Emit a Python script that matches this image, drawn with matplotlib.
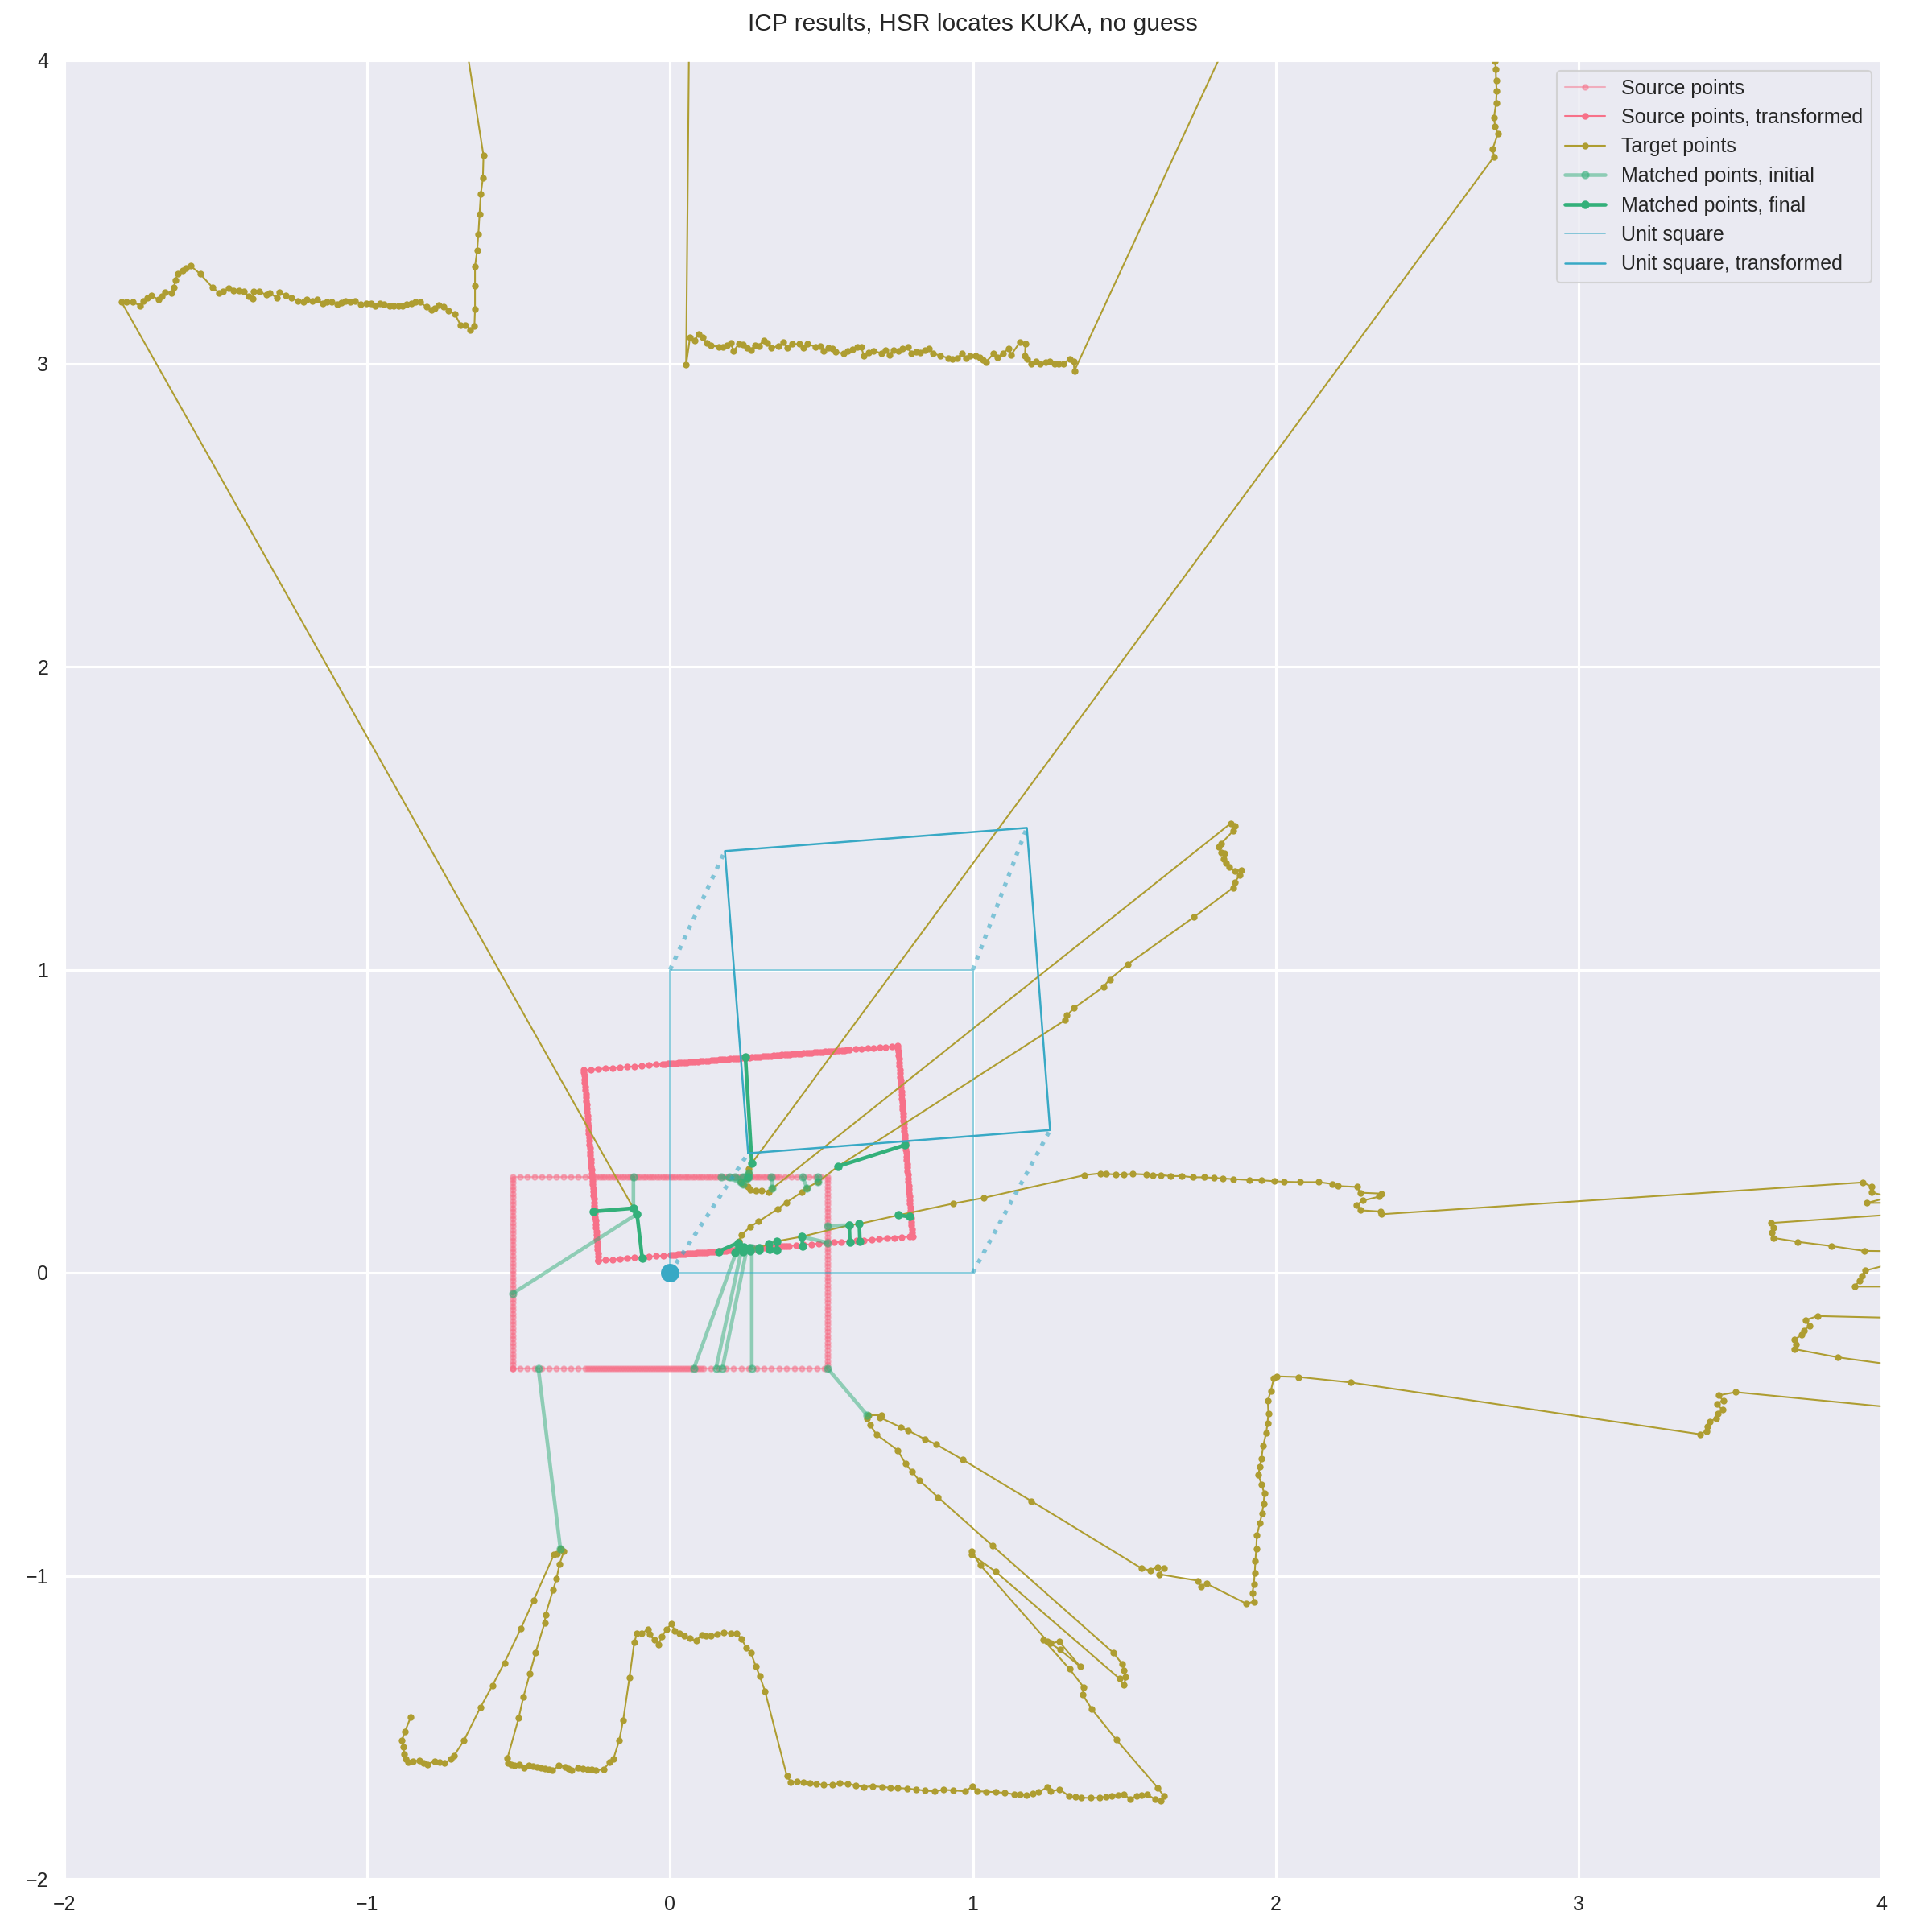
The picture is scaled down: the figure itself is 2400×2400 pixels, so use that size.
import numpy as np
import matplotlib
matplotlib.use("Agg")
import matplotlib.pyplot as plt
import matplotlib.transforms as mtransforms
import seaborn as sns

# colours (seaborn husl palette, 10 colours)
c_source = "#f77189"
c_target = "#ae9d31"
c_match = "#33b07a"
c_square = "#38a9c5"

# ICP result: rotation in degrees and translation
icp_theta = 4.4
icp_t = (0.258, 0.394)

# source scan of the KUKA footprint: rectangle outline
src_w, src_h = 0.52, 0.315
src_bottom_steps = [(-0.52, -0.28, 0.024), (-0.28, 0.11, 0.008), (0.11, 0.52, 0.025)]
src_top_steps = [(-0.52, -0.26, 0.024), (-0.26, 0.36, 0.009), (0.36, 0.52, 0.02)]
src_side_step = 0.012

# target scan (HSR laser), in scan order
tgt_bottom_left = [
    (-0.856, -1.465), (-0.875, -1.513), (-0.886, -1.544), (-0.880, -1.565), (-0.878, -1.587),
    (-0.872, -1.604), (-0.865, -1.615), (-0.848, -1.612), (-0.828, -1.609), (-0.815, -1.618),
    (-0.802, -1.622), (-0.776, -1.611), (-0.760, -1.616), (-0.744, -1.618), (-0.723, -1.604),
    (-0.713, -1.593), (-0.681, -1.544), (-0.626, -1.434), (-0.587, -1.363), (-0.547, -1.287),
    (-0.493, -1.175), (-0.451, -1.082), (-0.383, -0.929), (-0.374, -0.926), (-0.362, -0.912),
    (-0.351, -0.920), (-0.365, -0.962), (-0.375, -1.010), (-0.386, -1.046), (-0.411, -1.128),
    (-0.414, -1.155), (-0.444, -1.254), (-0.463, -1.323), (-0.484, -1.399), (-0.500, -1.470),
    (-0.537, -1.602),
]
tgt_bottom = [
    (-0.535, -1.617), (-0.524, -1.622), (-0.514, -1.626), (-0.498, -1.623), (-0.482, -1.634),
    (-0.466, -1.626), (-0.452, -1.628), (-0.440, -1.631), (-0.427, -1.633), (-0.414, -1.637),
    (-0.400, -1.638), (-0.388, -1.642), (-0.367, -1.626), (-0.346, -1.631), (-0.335, -1.636),
    (-0.325, -1.642), (-0.304, -1.634), (-0.288, -1.637), (-0.273, -1.639), (-0.260, -1.640),
    (-0.246, -1.642), (-0.220, -1.639), (-0.199, -1.615), (-0.187, -1.604), (-0.168, -1.544),
    (-0.155, -1.478), (-0.134, -1.336), (-0.118, -1.219), (-0.109, -1.190), (-0.094, -1.190),
    (-0.073, -1.177), (-0.068, -1.193), (-0.052, -1.212), (-0.037, -1.226), (-0.028, -1.201),
    (-0.011, -1.177), (0.005, -1.157), (0.016, -1.183), (0.031, -1.191), (0.047, -1.199),
    (0.066, -1.207), (0.086, -1.215), (0.105, -1.194), (0.120, -1.197), (0.136, -1.199),
    (0.157, -1.192), (0.178, -1.188), (0.200, -1.189), (0.220, -1.190), (0.236, -1.208),
    (0.252, -1.237), (0.267, -1.254), (0.283, -1.298), (0.296, -1.330), (0.314, -1.382),
    (0.386, -1.661), (0.399, -1.680), (0.420, -1.679), (0.441, -1.680), (0.462, -1.684),
    (0.482, -1.686), (0.508, -1.690), (0.535, -1.689), (0.560, -1.684), (0.587, -1.686),
    (0.613, -1.692), (0.640, -1.697), (0.670, -1.694), (0.702, -1.697), (0.727, -1.699),
    (0.752, -1.700), (0.783, -1.702), (0.813, -1.705), (0.843, -1.709), (0.873, -1.711),
    (0.904, -1.706), (0.934, -1.708), (0.974, -1.711), (0.999, -1.695), (1.015, -1.711),
    (1.045, -1.712), (1.075, -1.714), (1.106, -1.716), (1.136, -1.721), (1.156, -1.722),
    (1.176, -1.724), (1.197, -1.718), (1.217, -1.714), (1.247, -1.697), (1.257, -1.711),
    (1.287, -1.705), (1.318, -1.727), (1.338, -1.730), (1.358, -1.732), (1.389, -1.733),
    (1.419, -1.732), (1.439, -1.729), (1.459, -1.727), (1.479, -1.724), (1.499, -1.721),
    (1.520, -1.737), (1.540, -1.727), (1.557, -1.724), (1.575, -1.721), (1.601, -1.737),
    (1.621, -1.743), (1.631, -1.727), (1.611, -1.700),
]
tgt_diagonals = [
    (1.474, -1.541), (1.393, -1.440), (1.363, -1.393), (1.366, -1.368), (1.320, -1.308),
    (1.232, -1.210), (1.257, -1.223), (1.285, -1.217), (1.355, -1.300), (1.288, -1.244),
    (1.247, -1.217), (1.025, -0.965), (0.995, -0.920), (0.995, -0.929), (1.075, -0.986),
    (1.484, -1.339), (1.499, -1.361), (1.505, -1.334), (1.499, -1.311), (1.494, -1.292),
    (1.464, -1.254), (1.065, -0.901), (0.884, -0.740), (0.823, -0.685), (0.798, -0.655),
    (0.777, -0.629), (0.752, -0.586), (0.681, -0.533), (0.661, -0.502), (0.651, -0.480),
    (0.657, -0.470), (0.697, -0.470), (0.692, -0.477), (0.762, -0.510), (0.787, -0.521),
    (0.841, -0.549), (0.878, -0.566), (0.967, -0.617), (1.194, -0.754), (1.558, -0.976),
    (1.585, -0.982), (1.611, -0.971), (1.631, -0.974), (1.616, -0.995), (1.742, -1.016),
    (1.754, -1.037), (1.772, -1.026), (1.903, -1.092), (1.928, -1.085),
]
tgt_right_wall = [
    (1.923, -1.058), (1.928, -1.027), (1.931, -0.990), (1.933, -0.952), (1.936, -0.910),
    (1.938, -0.867), (1.948, -0.825), (1.955, -0.795), (1.960, -0.762), (1.963, -0.729),
    (1.953, -0.698), (1.943, -0.666), (1.948, -0.640), (1.953, -0.613), (1.959, -0.570),
    (1.969, -0.528), (1.973, -0.496), (1.976, -0.464), (1.974, -0.422), (1.984, -0.390),
    (1.994, -0.348), (2.004, -0.342),
]
tgt_right = [
    (2.076, -0.344), (2.247, -0.362), (3.401, -0.533), (3.423, -0.522), (3.427, -0.507),
    (3.434, -0.492), (3.454, -0.480), (3.460, -0.465), (3.475, -0.452), (3.457, -0.433),
    (3.478, -0.421), (3.462, -0.405), (3.519, -0.394), (4.3, -0.47), (4.3, -0.34),
    (3.856, -0.279), (3.714, -0.252), (3.717, -0.236), (3.714, -0.220), (3.738, -0.205),
    (3.744, -0.190), (3.763, -0.176), (3.750, -0.156), (3.790, -0.143), (4.3, -0.155),
    (4.3, -0.046), (3.912, -0.046), (3.928, -0.027), (3.935, -0.011), (3.948, 0.007),
    (4.3, 0.10), (4.3, 0.068), (3.943, 0.072), (3.836, 0.088), (3.723, 0.102),
    (3.643, 0.115), (3.639, 0.132), (3.643, 0.148), (3.637, 0.164), (4.3, 0.21),
    (4.3, 0.233), (3.952, 0.230), (4.03, 0.250), (3.967, 0.265), (3.967, 0.284),
    (3.940, 0.298),
]
tgt_center_right = [
    (2.350, 0.193), (2.346, 0.202), (2.279, 0.206), (2.267, 0.223), (2.288, 0.238),
    (2.341, 0.251), (2.350, 0.261), (2.279, 0.264), (2.270, 0.283), (2.205, 0.286),
    (2.186, 0.293), (2.143, 0.299), (2.080, 0.299), (2.027, 0.300), (1.996, 0.302),
    (1.952, 0.305), (1.912, 0.306), (1.859, 0.309), (1.825, 0.311), (1.797, 0.313),
    (1.763, 0.315), (1.726, 0.315), (1.691, 0.319), (1.652, 0.319), (1.622, 0.322),
    (1.595, 0.322), (1.572, 0.324), (1.528, 0.326), (1.498, 0.324), (1.472, 0.324),
    (1.440, 0.326), (1.422, 0.328), (1.369, 0.322), (1.036, 0.247), (0.935, 0.228),
    (0.755, 0.190), (0.625, 0.161), (0.592, 0.157), (0.435, 0.119), (0.353, 0.104),
    (0.327, 0.096), (0.293, 0.082), (0.262, 0.082), (0.245, 0.085), (0.227, 0.090),
    (0.225, 0.099),
]
tgt_center_up = [
    (0.227, 0.104), (0.237, 0.126), (0.266, 0.152), (0.292, 0.169), (0.355, 0.210),
    (0.385, 0.232), (0.435, 0.266), (0.452, 0.280), (0.489, 0.300), (0.555, 0.351),
    (1.304, 0.833), (1.311, 0.849), (1.334, 0.873), (1.431, 0.943), (1.452, 0.968),
    (1.511, 1.017), (1.731, 1.174), (1.859, 1.270), (1.864, 1.287), (1.882, 1.313),
    (1.887, 1.328), (1.864, 1.326), (1.846, 1.338), (1.837, 1.351), (1.829, 1.364),
    (1.830, 1.384), (1.820, 1.387), (1.811, 1.405), (1.820, 1.416), (1.859, 1.457),
    (1.864, 1.474), (1.852, 1.483),
]
tgt_hook = [
    (0.338, 0.278), (0.325, 0.265), (0.302, 0.272), (0.284, 0.272), (0.266, 0.274),
    (0.258, 0.285), (0.240, 0.292), (0.232, 0.300), (0.254, 0.310), (0.258, 0.316),
    (0.260, 0.330), (0.260, 0.343), (0.270, 0.361),
]
tgt_top_right = [
    (2.721, 3.682), (2.717, 3.709), (2.734, 3.758), (2.725, 3.781), (2.721, 3.812),
    (2.728, 3.858), (2.730, 3.898), (2.728, 3.934), (2.727, 3.970), (2.725, 3.998),
    (2.73, 4.3), (1.95, 4.3),
]
tgt_top_middle = [
    (1.335, 2.975), (1.333, 3.007), (1.320, 3.015), (1.300, 3.000), (1.284, 2.998),
    (1.269, 3.000), (1.255, 3.007), (1.240, 3.003), (1.222, 3.000), (1.209, 3.007),
    (1.192, 3.000), (1.180, 3.014), (1.172, 3.024), (1.174, 3.066), (1.156, 3.071),
    (1.127, 3.029), (1.118, 3.049), (1.099, 3.033), (1.081, 3.020), (1.068, 3.032),
    (1.044, 3.005), (1.033, 3.011), (1.022, 3.020), (1.009, 3.025), (0.992, 3.025),
    (0.978, 3.018), (0.965, 3.032), (0.947, 3.018), (0.931, 3.015), (0.918, 3.018),
    (0.892, 3.026), (0.868, 3.033), (0.856, 3.049), (0.841, 3.044), (0.825, 3.035),
    (0.812, 3.038), (0.796, 3.033), (0.786, 3.055), (0.768, 3.049), (0.755, 3.040),
    (0.739, 3.044), (0.724, 3.029), (0.712, 3.044), (0.697, 3.034), (0.671, 3.042),
    (0.656, 3.035), (0.640, 3.026), (0.631, 3.055), (0.618, 3.055), (0.603, 3.047),
    (0.587, 3.042), (0.574, 3.032), (0.547, 3.038), (0.536, 3.049), (0.523, 3.053),
    (0.508, 3.040), (0.497, 3.058), (0.481, 3.055), (0.455, 3.064), (0.441, 3.051),
    (0.428, 3.064), (0.402, 3.064), (0.386, 3.051), (0.375, 3.070), (0.359, 3.058),
    (0.333, 3.051), (0.322, 3.068), (0.309, 3.076), (0.293, 3.058), (0.280, 3.060),
    (0.267, 3.044), (0.253, 3.051), (0.240, 3.062), (0.227, 3.064), (0.210, 3.041),
    (0.200, 3.068), (0.187, 3.059), (0.174, 3.055), (0.161, 3.055), (0.134, 3.059),
    (0.121, 3.068), (0.108, 3.086), (0.094, 3.096), (0.081, 3.077), (0.066, 3.086),
    (0.053, 2.995), (0.065, 4.3), (-0.712, 4.3),
]
tgt_top_left = [
    (-0.616, 3.686), (-0.618, 3.611), (-0.625, 3.558), (-0.629, 3.494), (-0.633, 3.425),
    (-0.637, 3.372), (-0.644, 3.321), (-0.644, 3.256), (-0.644, 3.180), (-0.646, 3.123),
    (-0.660, 3.111), (-0.676, 3.127), (-0.692, 3.127), (-0.711, 3.164), (-0.732, 3.173),
    (-0.747, 3.187), (-0.763, 3.193), (-0.778, 3.182), (-0.789, 3.177), (-0.805, 3.186),
    (-0.826, 3.204), (-0.840, 3.202), (-0.855, 3.199), (-0.869, 3.196), (-0.884, 3.191),
    (-0.897, 3.191), (-0.913, 3.191), (-0.926, 3.191), (-0.944, 3.196), (-0.959, 3.198),
    (-0.973, 3.191), (-0.988, 3.198), (-1.004, 3.198), (-1.021, 3.196), (-1.039, 3.207),
    (-1.055, 3.204), (-1.071, 3.207), (-1.086, 3.200), (-1.099, 3.196), (-1.117, 3.204),
    (-1.133, 3.204), (-1.146, 3.198), (-1.166, 3.211), (-1.182, 3.207), (-1.199, 3.211),
    (-1.210, 3.202), (-1.228, 3.207), (-1.250, 3.216), (-1.268, 3.224), (-1.290, 3.236),
    (-1.299, 3.217), (-1.321, 3.232), (-1.334, 3.226), (-1.356, 3.238), (-1.374, 3.239),
    (-1.378, 3.215), (-1.392, 3.222), (-1.407, 3.239), (-1.423, 3.240), (-1.441, 3.240),
    (-1.458, 3.248), (-1.476, 3.238), (-1.489, 3.233), (-1.512, 3.252), (-1.552, 3.296),
    (-1.583, 3.322), (-1.598, 3.316), (-1.610, 3.307), (-1.625, 3.296), (-1.634, 3.274),
    (-1.638, 3.252), (-1.647, 3.232), (-1.667, 3.236), (-1.679, 3.222), (-1.690, 3.211),
    (-1.712, 3.224), (-1.727, 3.216), (-1.740, 3.207), (-1.750, 3.191), (-1.774, 3.202),
    (-1.794, 3.202), (-1.811, 3.202),
]
tgt_end = [(-0.121, 0.213), (-0.109, 0.194)]

# correspondences: (source x, source y, target x, target y)
match_initial = [
    (-0.520, -0.069, -0.109, 0.194), (-0.121, 0.316, -0.121, 0.213),
    (-0.435, -0.315, -0.362, -0.912), (0.520, -0.315, 0.651, -0.470),
    (0.079, -0.315, 0.225, 0.086), (0.152, -0.315, 0.237, 0.080),
    (0.173, -0.315, 0.254, 0.080), (0.270, -0.315, 0.270, 0.082),
    (0.520, 0.155, 0.592, 0.157), (0.520, 0.099, 0.435, 0.119),
    (0.335, 0.316, 0.338, 0.278), (0.438, 0.316, 0.452, 0.280),
    (0.489, 0.316, 0.489, 0.300), (0.170, 0.316, 0.232, 0.300),
    (0.195, 0.316, 0.240, 0.292), (0.215, 0.316, 0.254, 0.310),
    (0.260, 0.316, 0.258, 0.316), (0.240, 0.316, 0.260, 0.330),
]
match_final = [
    (0.249, 0.713, 0.270, 0.361), (-0.254, 0.202, -0.121, 0.213),
    (-0.092, 0.049, -0.109, 0.194), (0.160, 0.070, 0.225, 0.099),
    (0.775, 0.421, 0.555, 0.351), (0.790, 0.185, 0.755, 0.190),
    (0.594, 0.100, 0.592, 0.157), (0.627, 0.104, 0.625, 0.161),
    (0.438, 0.087, 0.435, 0.119), (0.353, 0.075, 0.353, 0.104),
    (0.328, 0.077, 0.327, 0.096), (0.293, 0.075, 0.293, 0.082),
    (0.215, 0.066, 0.227, 0.090), (0.240, 0.068, 0.245, 0.085),
    (0.265, 0.071, 0.262, 0.082),
]

unit_x = [0, 1, 1, 0, 0]
unit_y = [0, 0, 1, 1, 0]


def edge(steps):
    return np.concatenate([np.arange(a, b, s) for a, b, s in steps])


def segments(pairs):
    xs, ys = [], []
    for sx, sy, tx, ty in pairs:
        xs += [sx, tx, np.nan]
        ys += [sy, ty, np.nan]
    return xs, ys


sns.set_theme(style="darkgrid", rc={"grid.linewidth": 1.5})
plt.rcParams['font.family'] = ['Liberation Sans', 'DejaVu Sans']

# source outline: bottom -> right -> top -> left
bx = edge(src_bottom_steps)
tx = edge(src_top_steps)[::-1]
side = np.arange(-src_h, src_h, src_side_step)
src_x = np.concatenate([bx, np.full(len(side), src_w), tx, np.full(len(side), -src_w), [-src_w]])
src_y = np.concatenate([np.full(len(bx), -src_h), side, np.full(len(tx), src_h), side[::-1], [-src_h]])

target = (tgt_bottom_left + tgt_bottom + tgt_diagonals + tgt_right_wall + tgt_right
          + tgt_center_right + tgt_center_up + tgt_hook + tgt_top_right + tgt_top_middle
          + tgt_top_left + tgt_end)
tgt_x = [p[0] for p in target]
tgt_y = [p[1] for p in target]

fig = plt.figure(figsize=(16, 16), dpi=150)
ax = fig.add_axes([80 / 2400, 1 - 2334 / 2400, 2257 / 2400, 2259 / 2400])

icp = mtransforms.Affine2D().rotate_deg(icp_theta).translate(*icp_t)

ax.plot(src_x, src_y, '-o', color=c_source, alpha=0.5, lw=1, ms=3, label='Source points')
ax.plot(src_x, src_y, '-o', color=c_source, lw=1, ms=3, transform=icp + ax.transData,
        label='Source points, transformed')
ax.plot(tgt_x, tgt_y, '-o', color=c_target, lw=1, ms=3, label='Target points')

mx, my = segments(match_initial)
ax.plot(mx, my, '-o', color=c_match, alpha=0.5, lw=2.2, ms=4, label='Matched points, initial')
mx, my = segments(match_final)
ax.plot(mx, my, '-o', color=c_match, lw=2.2, ms=4, label='Matched points, final')

ax.plot(unit_x, unit_y, color=c_square, alpha=0.6, lw=0.9, label='Unit square')
ax.plot(unit_x, unit_y, color=c_square, lw=1.2, transform=icp + ax.transData,
        label='Unit square, transformed')

# dotted links from each unit square corner to its transformed position
corners = np.column_stack([unit_x[:4], unit_y[:4]])
moved = icp.transform(corners)
for (x0, y0), (x1, y1) in zip(corners, moved):
    ax.plot([x0, x1], [y0, y1], ':', color=c_square, alpha=0.6, lw=2.5)
ax.plot(unit_x[0], unit_y[0], 'o', color=c_square, ms=10)

ax.set_xlim(-2, 4)
ax.set_ylim(-2, 4)
ax.set_xticks(range(-2, 5))
ax.set_yticks(range(-2, 5))
ax.tick_params(labelsize=12)
ax.set_title('ICP results, HSR locates KUKA, no guess', fontsize=14.4, pad=18)
ax.legend(loc='upper right', fontsize=12)

fig.savefig('out.png', dpi=150)
